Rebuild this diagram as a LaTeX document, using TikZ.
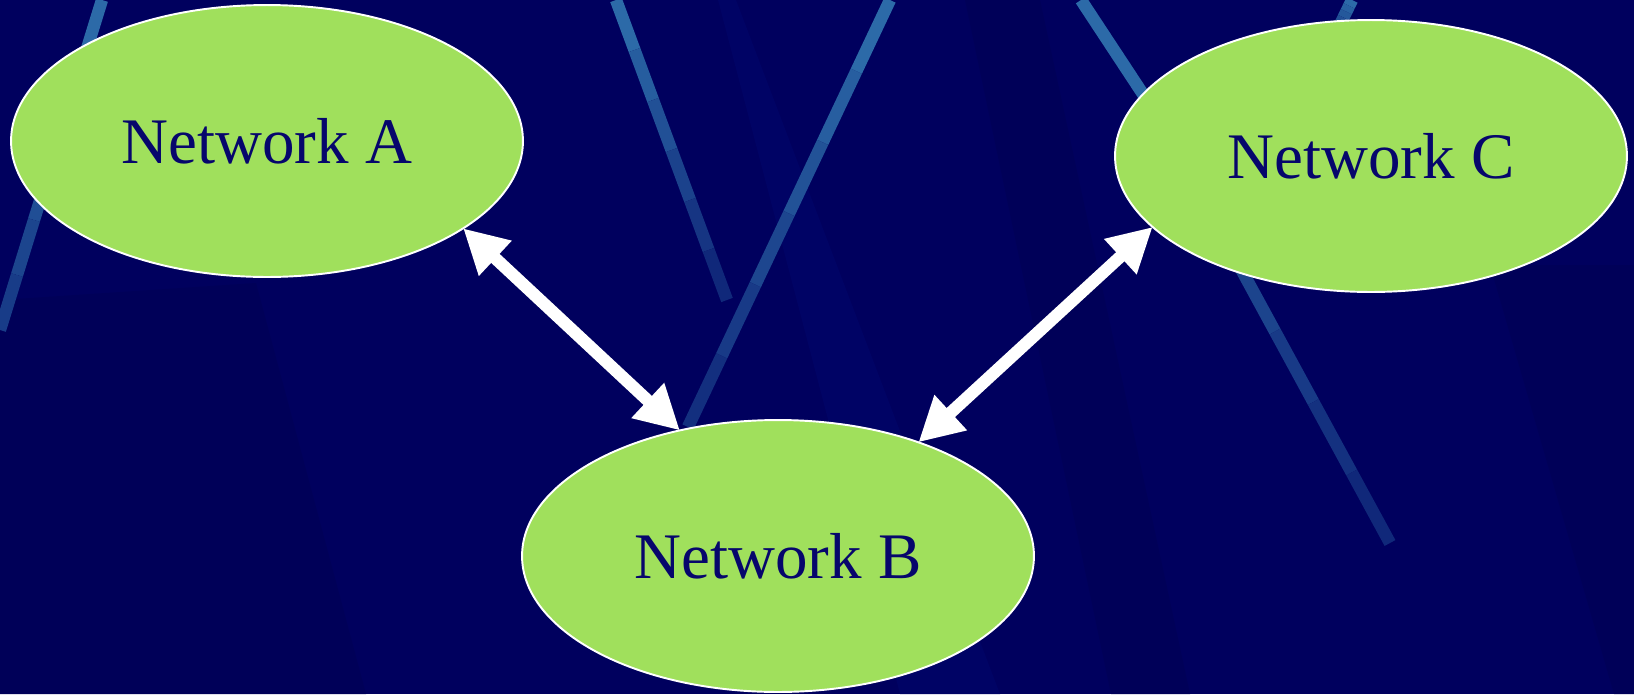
\documentclass[tikz,border=0pt]{standalone}
\usepackage{fontspec}
\setmainfont{Liberation Serif}
\usetikzlibrary{shapes.geometric,arrows.meta,calc}

\definecolor{navybg}{HTML}{00005E}
\definecolor{navydark}{HTML}{000058}
\definecolor{navylight}{HTML}{000365}
\definecolor{streakhi}{HTML}{2C6AA8}
\definecolor{streaklo}{HTML}{10287A}
\definecolor{netgreen}{HTML}{A0E05C}
\definecolor{nettext}{HTML}{06066C}

\begin{document}
\begin{tikzpicture}[x=0.02cm,y=-0.02cm,
    net/.style={ellipse, draw=white, line width=1.1pt, fill=netgreen,
      minimum width=10.24cm, minimum height=5.44cm, inner sep=0pt, outer sep=0pt,
      text=nettext, font=\fontsize{37}{40}\selectfont},
    link/.style={draw=white, line width=7pt,
      {Triangle[length=0.88cm,width=0.9cm]}-{Triangle[length=0.88cm,width=0.9cm]}},
    streak/.style={line width=7pt}]
    % background
    \fill[navybg] (0,0) rectangle (1634,694);
    \useasboundingbox (0,0) rectangle (1634,694);
    \begin{scope}
    \clip (0,0) rectangle (1634,694);
    \fill[navydark] (0,300) -- (256,283) -- (366,694) -- (0,694) -- cycle;
    \fill[navylight] (718,0) -- (736,0) -- (1000,694) -- (900,694) -- cycle;
    \fill[navydark] (965,0) -- (1040,0) -- (1190,694) -- (1111,694) -- cycle;
    \fill[navydark] (1490,265) -- (1634,265) -- (1634,694) -- (1614,694) -- cycle;
    % streaks, fading from top to bottom
    \foreach \p/\q/\f in {{102,0}/{0,330}/70, {616,0}/{727,300}/100,
                          {890,0}/{688,427}/90, {1352,0}/{1335,35}/70} {
      \foreach \k in {0,...,5} {
        \pgfmathtruncatemacro{\mixval}{100-\k*\f/5}
        \draw[streak, draw=streakhi!\mixval!streaklo]
          ($(\p)!\k/6!(\q)$) -- ($(\p)!\k/6+1/6!(\q)$);
      }
    }
    \draw[streak, draw=streakhi] (1081,0) -- (1160,120);
    \foreach \k in {0,...,5} {
      \pgfmathtruncatemacro{\mixval}{70-\k*14}
      \draw[streak, draw=streakhi!\mixval!streaklo]
        ($(1160,120)!\k/6!(1390,543)$) -- ($(1160,120)!\k/6+1/6!(1390,543)$);
    }
    \end{scope}

    % networks
    \node[net] (A) at (267,141) {Network A};
    \node[net] (B) at (778,556) {Network B};
    \node[net] (C) at (1371,156) {Network C};

    \draw[link] (A.-24.8) -- (B.128.7);
    \draw[link] (C.-162) -- (B.39.7);
\end{tikzpicture}
\end{document}
